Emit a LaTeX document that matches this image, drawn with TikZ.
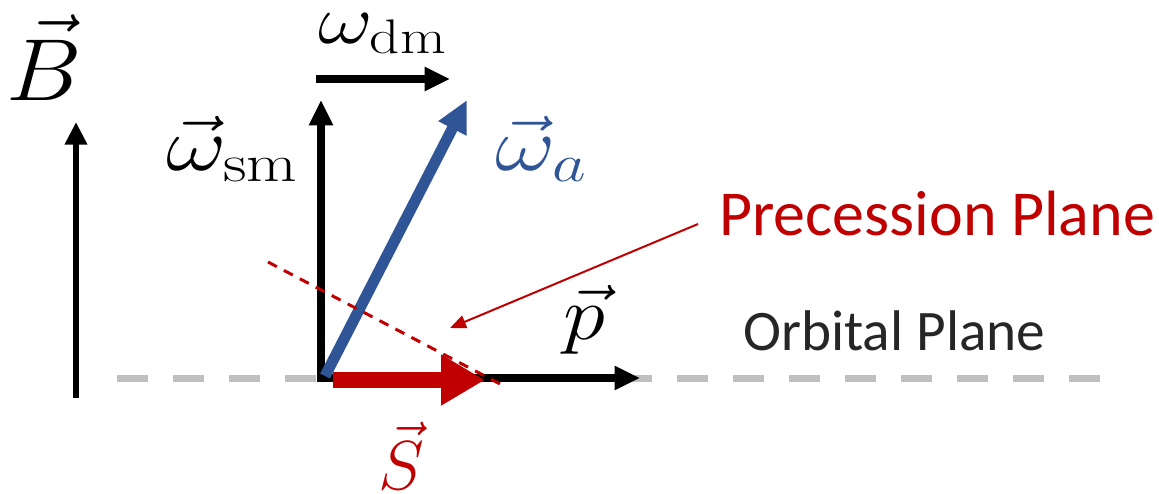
\RequirePackage{fix-cm}
\documentclass[tikz,border=0pt]{standalone}
\usepackage{fontspec}
\newfontfamily\calibri{Carlito}
\usetikzlibrary{arrows.meta}
\definecolor{vecblue}{HTML}{2F5597}
\definecolor{planered}{HTML}{C00000}
\definecolor{planegray}{HTML}{BFBFBF}
\newcommand{\sz}[1]{\fontsize{#1}{1.2\dimexpr#1\relax}\selectfont}
\newcommand{\wide}[2]{\scalebox{#1}[1]{#2}}

\begin{document}
\begin{tikzpicture}[x=0.75pt, y=-0.75pt,
    vecarrow/.style={line width=6pt, -{Triangle[length=19pt, width=17pt]}},
    lbl/.style={inner sep=0pt, anchor=base west}]
    \useasboundingbox (0,0) rectangle (1159,493);

    % Orbital plane
    \coordinate (orbL) at (117,378);
    \coordinate (orbR) at (1100,378);
    \draw[planegray, line width=5.25pt, dash pattern=on 23.25pt off 18.75pt] (orbL) -- (orbR);
    \node[lbl, text=black!85] (orbital) at (743,350) {\calibri\sz{43pt}Orbital Plane};

    % Field B
    \coordinate (Bfoot) at (76,398);
    \coordinate (Btip) at (76,122);
    \draw[line width=4.5pt, -{Triangle[length=17pt, width=16pt]}] (Bfoot) -- (Btip);
    \node[inner sep=0pt, anchor=base] (Blabel) at (44,100) {\sz{66pt}\wide{1.08}{$\vec{B}$}};

    % Frequencies
    \coordinate (O) at (321,382);
    \coordinate (smtip) at (321,100);
    \coordinate (dmL) at (316,79);
    \coordinate (dmR) at (450,79);
    \coordinate (pL) at (317,378);
    \coordinate (ptip) at (640,378);
    \draw[vecarrow] (pL) -- (ptip);
    \draw[vecarrow] (O) -- (smtip);
    \draw[vecarrow] (dmL) -- (dmR);
    \node[lbl] (wdm) at (318,43) {\sz{52pt}\wide{1.22}{$\omega_{\mathrm{dm}}$}};
    \node[lbl] (wsm) at (166,170) {\sz{57pt}\wide{1.23}{$\vec{\omega}_{\mathrm{sm}}$}};
    \node[lbl] (plabel) at (563,339) {\sz{57pt}\wide{1.12}{$\vec{p}$}};

    % omega_a and spin
    \coordinate (abase) at (325,376);
    \coordinate (atip) at (467,100);
    \draw[vecblue, line width=8.25pt, -{Triangle[length=24pt, width=22pt]}] (abase) -- (atip);
    \node[lbl, text=vecblue] (wa) at (495,170) {\sz{57pt}\wide{1.23}{$\vec{\omega}_a$}};
    \coordinate (Sbase) at (333,380);
    \coordinate (Stip) at (485,380);
    \draw[planered, line width=12pt, -{Triangle[length=33pt, width=36pt]}] (Sbase) -- (Stip);
    \node[lbl, text=planered] (Slabel) at (378,489) {\sz{52pt}$\vec{S}$};

    % Precession plane
    \coordinate (precA) at (268,262);
    \coordinate (precB) at (502,385);
    \draw[planered, line width=2.25pt, dash pattern=on 7.5pt off 6pt] (precA) -- (precB);
    \node[lbl, text=planered] (prec) at (719,235) {\calibri\sz{48pt}Precession Plane};
    \coordinate (ptrA) at (698,224);
    \coordinate (ptrB) at (450,328);
    \draw[planered, line width=1.5pt, -{Triangle[length=12pt, width=10pt]}] (ptrA) -- (ptrB);
\end{tikzpicture}
\end{document}
